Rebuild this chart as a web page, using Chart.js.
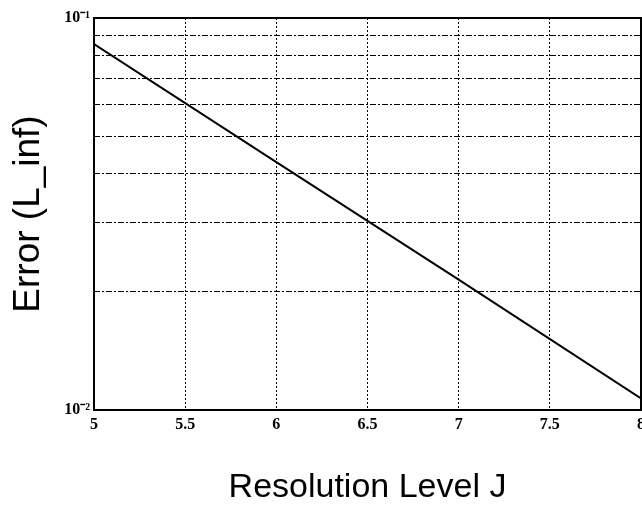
<!DOCTYPE html>
<html>
<head>
<meta charset="utf-8">
<script src="https://cdn.jsdelivr.net/npm/chart.js@4"></script>
<style>
  html, body { margin: 0; padding: 0; background: #fff; }
  #wrap { width: 642px; height: 506px; }
</style>
</head>
<body>
<div id="wrap"><canvas id="errChart"></canvas></div>
<script>
// Dados do gráfico
const levels = [5, 6, 7, 8];
const errors = [0.0858, 0.0429, 0.0215, 0.0107];
const xTicks = [5, 5.5, 6, 6.5, 7, 7.5, 8];
const yGrid = [0.01, 0.02, 0.03, 0.04, 0.05, 0.06, 0.07, 0.08, 0.09, 0.1];
const yLabels = { '0.1': '10\u207B\u00B9', '0.01': '10\u207B\u00B2' };

// Moldura em volta da área do gráfico
const framePlugin = {
  id: 'frame',
  afterDatasetsDraw(chart) {
    const { ctx, chartArea: a } = chart;
    ctx.save();
    ctx.strokeStyle = '#000';
    ctx.lineWidth = 2;
    ctx.strokeRect(a.left, a.top, a.right - a.left, a.bottom - a.top);
    ctx.restore();
  }
};

const tickFont = { family: 'Liberation Serif', size: 16, weight: 'bold' };

new Chart(document.getElementById('errChart'), {
  type: 'line',
  data: {
    datasets: [{
      data: levels.map((j, i) => ({ x: j, y: errors[i] })),
      borderColor: '#000',
      borderWidth: 2,
      pointRadius: 0,
      tension: 0,
      fill: false
    }]
  },
  options: {
    responsive: true,
    maintainAspectRatio: false,
    animation: false,
    layout: { padding: { top: 18, right: 1, left: 0, bottom: 0 } },
    plugins: {
      legend: { display: false },
      tooltip: { enabled: false }
    },
    scales: {
      x: {
        type: 'linear',
        min: 5,
        max: 8,
        afterBuildTicks: s => { s.ticks = xTicks.map(v => ({ value: v })); },
        afterFit: s => { s.height = 96; s.paddingLeft = 0; s.paddingRight = 0; },
        ticks: {
          color: '#000',
          font: tickFont,
          padding: 5,
          maxRotation: 0,
          autoSkip: false,
          callback: v => String(v)
        },
        grid: { color: '#000', lineWidth: 1, drawTicks: false },
        border: { display: false, dash: [2, 2] },
        title: {
          display: true,
          text: 'Resolution Level J',
          color: '#000',
          font: { family: 'Liberation Sans', size: 34, lineHeight: 1.1 },
          padding: { top: 4, bottom: 0 }
        }
      },
      y: {
        type: 'logarithmic',
        min: 0.01,
        max: 0.1,
        afterBuildTicks: s => { s.ticks = yGrid.map(v => ({ value: v })); },
        afterFit: s => { s.width = 94; },
        ticks: {
          color: '#000',
          font: tickFont,
          padding: 4,
          autoSkip: false,
          callback: v => yLabels[String(v)] || ''
        },
        grid: { color: '#000', lineWidth: 1, drawTicks: false },
        border: { display: false, dash: [6, 2, 2, 2] },
        title: {
          display: true,
          text: 'Error (L_inf)',
          color: '#000',
          font: { family: 'Liberation Sans', size: 37, lineHeight: 1.1 },
          padding: { top: 8, bottom: 0 }
        }
      }
    }
  },
  plugins: [framePlugin]
});
</script>
</body>
</html>
